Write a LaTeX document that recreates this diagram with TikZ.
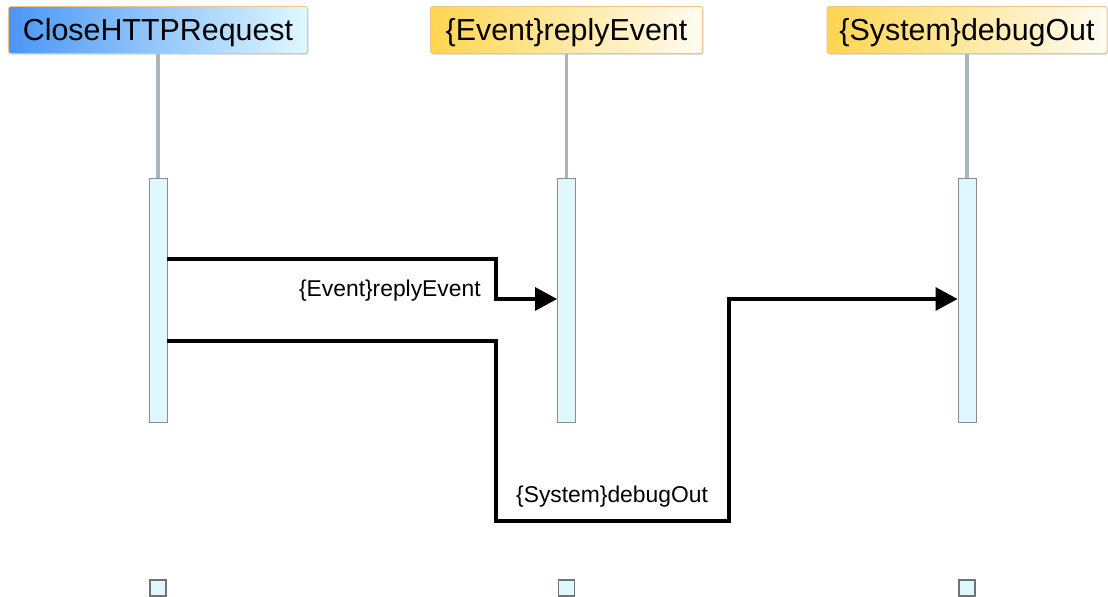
\documentclass[tikz,border=0pt]{standalone}
\usepackage{fontspec}
\setmainfont{Liberation Sans}
\usepackage{tikz}
\usetikzlibrary{arrows.meta}
\usetikzlibrary{shadows}
\definecolor{barfill}{HTML}{DFF8FF}
\definecolor{lifegray}{HTML}{A9B5BD}
\definecolor{headborder}{HTML}{EDC48A}
\definecolor{headblue}{HTML}{4A96F6}
\definecolor{headgold}{HTML}{FFD54F}
\definecolor{headcream}{HTML}{FFFCF2}
\tikzset{%
  >={Triangle[length=12.5pt,width=13pt]},
  head/.style={draw=headborder,line width=0.5pt,rounded corners=1pt,minimum height=0.94cm,
    inner sep=0pt,text height=12.4pt,text depth=0pt,
    drop shadow={shadow xshift=0.6pt,shadow yshift=-0.8pt,opacity=0.25},
    font=\fontsize{17.3}{20}\selectfont},
  headb/.style={head,left color=headblue,right color=barfill},
  headg/.style={head,left color=headgold,right color=headcream},
  bar/.style={draw=gray!90,fill=barfill,line width=0.5pt,minimum width=0.36cm,
    minimum height=4.88cm,inner sep=0pt},
  endbox/.style={draw=gray!90!black,fill=barfill,line width=0.6pt,minimum size=0.32cm,inner sep=0pt},
  life/.style={draw=lifegray,line width=1.8pt},
  msg/.style={line width=2pt},
  msglabel/.style={font=\fontsize{13}{15}\selectfont,inner sep=0pt}
}

\begin{document}
\begin{tikzpicture}[x=0.02cm,y=-0.02cm]
\useasboundingbox (0,0) rectangle (1108,597);

% lifeline heads
\node[headb,minimum width=5.98cm] (req) at (158,30) {CloseHTTPRequest};
\node[headg,minimum width=5.44cm] (evt) at (566.5,30) {\{Event\}replyEvent};
\node[headg,minimum width=5.6cm] (dbg) at (967,30) {\{System\}debugOut};

% activation bars
\node[bar] (reqbar) at (158,300) {};
\node[bar] (evtbar) at (566.5,300) {};
\node[bar] (dbgbar) at (967,300) {};

\draw[life] (req.south) -- (reqbar.north);
\draw[life] (evt.south) -- (evtbar.north);
\draw[life] (dbg.south) -- (dbgbar.north);

% end marks
\node[endbox] (reqend) at (158,588) {};
\node[endbox] (evtend) at (566.5,588) {};
\node[endbox] (dbgend) at (967,588) {};

% messages
\draw[msg,->] (reqbar.east |- 0,259) -- (496,259) -- (496,299) -- (evtbar.west |- 0,299);
\node[msglabel,anchor=east] (evtmsg) at (481,291) {\{Event\}replyEvent};

\draw[msg,->] (reqbar.east |- 0,341) -- (496,341) -- (496,521) -- (729,521) -- (729,299)
  -- (dbgbar.west |- 0,299);
\node[msglabel] (dbgmsg) at (612,497) {\{System\}debugOut};
\end{tikzpicture}
\end{document}
